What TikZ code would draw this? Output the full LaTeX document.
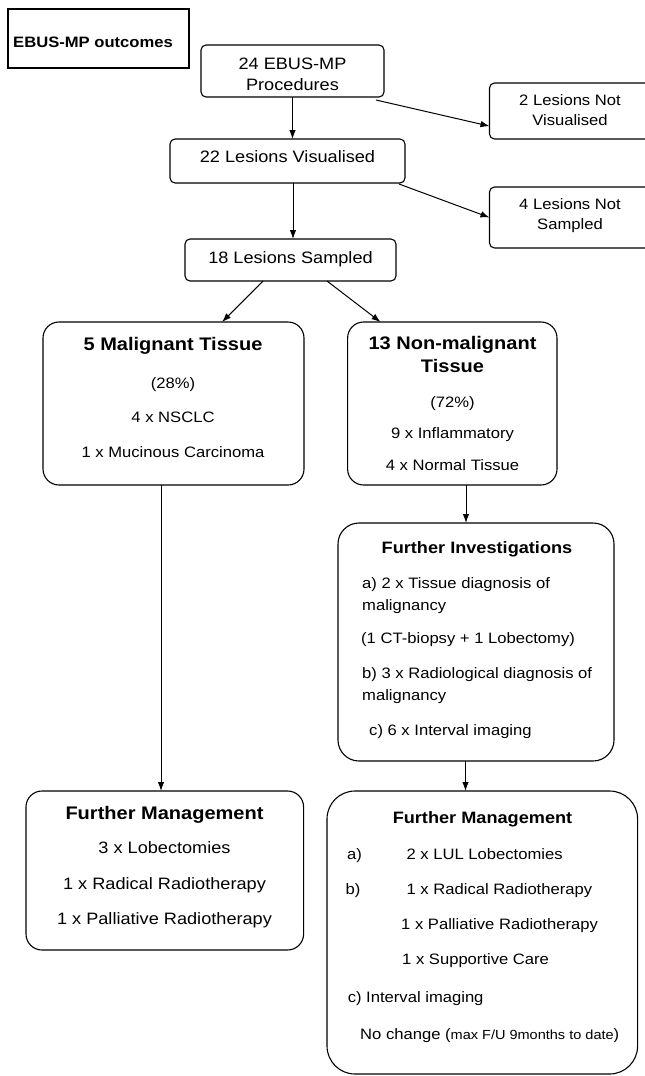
\documentclass[tikz,border=0pt]{standalone}
\usepackage{fontspec}
\setmainfont[FakeStretch=1.1]{Liberation Sans}
\usetikzlibrary{arrows.meta,calc}
\tikzset{
  box/.style={draw=black, line width=1.1pt, inner sep=0pt, outer sep=0pt},
  arr/.style={draw=black, line width=1pt, -{Latex[length=9pt,width=6.5pt]}},
  t/.style={inner sep=0pt, anchor=base},
  tl/.style={inner sep=0pt, anchor=base west},
  fA/.style={font=\fontsize{16.5}{19}\selectfont},
  fB/.style={font=\fontsize{15.1}{18}\selectfont},
  fT/.style={font=\fontsize{18.2}{21}\selectfont\bfseries},
  fH/.style={font=\fontsize{16.5}{19}\selectfont\bfseries},
  fTitle/.style={font=\fontsize{15.1}{18}\selectfont\bfseries},
}
\begin{document}
\begin{tikzpicture}[x=1pt,y=-1pt]
\useasboundingbox (0,0) rectangle (645,1076);
% boxes
\node[box, minimum width=181pt, minimum height=59pt] (title) at (98.5,38.5) {};
\node[box, rounded corners=5pt, minimum width=183pt, minimum height=52pt] (A) at (292.5,71) {};
\node[box, rounded corners=5pt, minimum width=160.5pt, minimum height=56pt] (B) at (569.75,111) {};
\node[box, rounded corners=5pt, minimum width=235pt, minimum height=44pt] (C) at (287.5,161) {};
\node[box, rounded corners=5pt, minimum width=160.5pt, minimum height=61pt] (D) at (569.75,217.5) {};
\node[box, rounded corners=5pt, minimum width=211pt, minimum height=42pt] (E) at (290.5,260) {};
\node[box, rounded corners=16pt, minimum width=261pt, minimum height=163pt] (F) at (173.5,403.5) {};
\node[box, rounded corners=16pt, minimum width=209.4pt, minimum height=163pt] (G) at (452.3,403.5) {};
\node[box, rounded corners=21pt, minimum width=276pt, minimum height=238pt] (H) at (476,642) {};
\node[box, rounded corners=16pt, minimum width=277.6pt, minimum height=159pt] (L) at (164.8,870.5) {};
\node[box, rounded corners=28pt, minimum width=310.6pt, minimum height=283pt] (R) at (482.3,932.5) {};

% texts
\node[tl, fTitle] (tt) at (13,47.5) {EBUS-MP outcomes};
\node[t, fA] (a1) at (292.5,69) {24 EBUS-MP};
\node[t, fA] (a2) at (292.5,90) {Procedures};
\node[t, fB] (b1) at (570,105.5) {2 Lesions Not};
\node[t, fB] (b2) at (570,125.5) {Visualised};
\node[t, fA] (c1) at (287.5,162) {22 Lesions Visualised};
\node[t, fB] (d1) at (570,209.5) {4 Lesions Not};
\node[t, fB] (d2) at (570,229.5) {Sampled};
\node[t, fA] (e1) at (290.5,263) {18 Lesions Sampled};

\node[t, fT] (f1) at (173,350.6) {5 Malignant Tissue};
\node[t, fB] (f2) at (173,388.4) {(28\%)};
\node[t, fB] (f3) at (173,422.4) {4 x NSCLC};
\node[t, fB] (f4) at (173,457.4) {1 x Mucinous Carcinoma};

\node[t, fT] (g1) at (452.5,349.6) {13 Non-malignant};
\node[t, fT] (g2) at (452.5,372.6) {Tissue};
\node[t, fB] (g3) at (452.5,407.4) {(72\%)};
\node[t, fB] (g4) at (452.5,438.4) {9 x Inflammatory};
\node[t, fB] (g5) at (452.5,470.4) {4 x Normal Tissue};

\node[t, fH] (h0) at (477,553) {Further Investigations};
\node[tl, fB] (h1) at (362,588.4) {a) 2 x Tissue diagnosis of};
\node[tl, fB] (h2) at (362,610.4) {malignancy};
\node[tl, fB] (h3) at (361,643.4) {(1 CT-biopsy + 1 Lobectomy)};
\node[tl, fB] (h4) at (362,678.4) {b) 3 x Radiological diagnosis of};
\node[tl, fB] (h5) at (362,700.4) {malignancy};
\node[tl, fB] (h6) at (369,735.4) {c) 6 x Interval imaging};

\node[t, fT] (l0) at (164.5,819.6) {Further Management};
\node[t, fA] (l1) at (164.5,853.9) {3 x Lobectomies};
\node[t, fA] (l2) at (164.5,889.9) {1 x Radical Radiotherapy};
\node[t, fA] (l3) at (164.5,924.9) {1 x Palliative Radiotherapy};

\node[t, fH] (r0) at (482.5,823) {Further Management};
\node[tl, fB] (ra) at (347,859.4) {a)};
\node[tl, fB] (r1) at (406.4,859.4) {2 x LUL Lobectomies};
\node[tl, fB] (rb) at (345.5,894.4) {b)};
\node[tl, fB] (r2) at (406.4,894.4) {1 x Radical Radiotherapy};
\node[tl, fB] (r3) at (401,929.4) {1 x Palliative Radiotherapy};
\node[tl, fB] (r4) at (402,964.4) {1 x Supportive Care};
\node[tl, fB] (r5) at (347.6,1002.4) {c) Interval imaging};
\node[tl, fB] (r6) at (360,1039.4) {No change ({\fontsize{13.2}{16}\selectfont max F/U 9months to date})};

% connectors
\draw[arr] (A.south) -- (A.south |- C.north);
\draw[arr] ([xshift=-8pt,yshift=-3pt]A.south east) -- ($(B.south west)!0.23!(B.north west)$);
\draw[arr] ([xshift=5.5pt]C.south) -- ([xshift=5.5pt]C.south |- E.north);
\draw[arr] ([xshift=-6pt,yshift=-1pt]C.south east) -- (D.west);
\draw[arr] ($(E.south west)!0.37!(E.south east)$) -- ($(F.north west)!0.686!(F.north east)$);
\draw[arr] ($(E.south west)!0.673!(E.south east)$) -- ($(G.north west)!0.157!(G.north east)$);
\draw[arr] ([xshift=-12.5pt]F.south) -- ([xshift=-12.5pt]F.south |- L.north);
\draw[arr] ([xshift=13.7pt]G.south) -- ([xshift=13.7pt]G.south |- H.north);
\draw[arr] ([xshift=-10.5pt]H.south) -- ([xshift=-10.5pt]H.south |- R.north);
\end{tikzpicture}
\end{document}
